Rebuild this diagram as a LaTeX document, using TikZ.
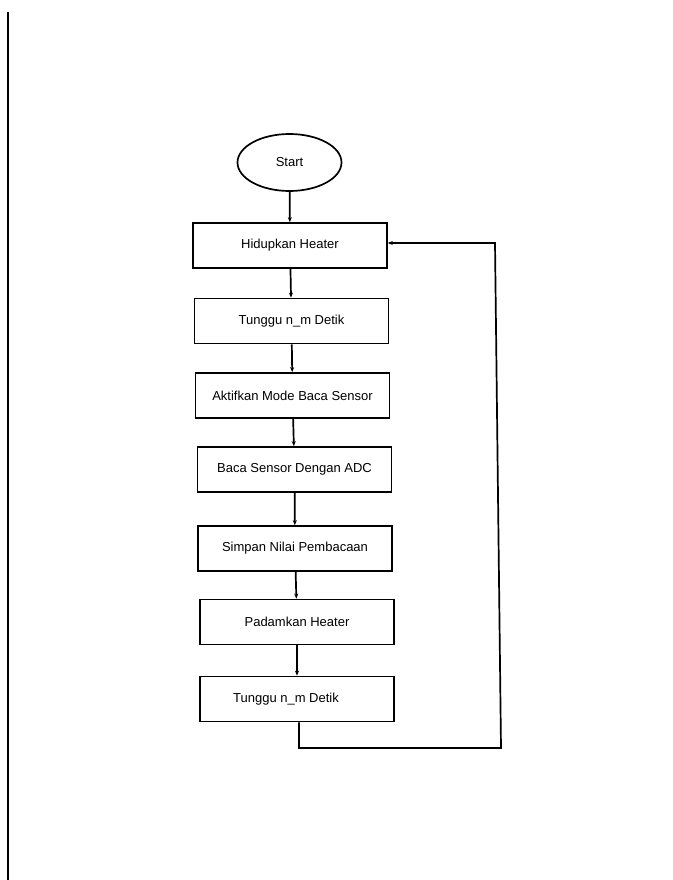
\documentclass[tikz,border=0pt]{standalone}
\usepackage{fontspec}
\setmainfont{Liberation Sans}
\usetikzlibrary{arrows.meta,shapes.geometric}
\begin{document}
\begin{tikzpicture}[x=1pt,y=-1pt,
  line width=1.7pt,
  stepbox/.style={draw, rectangle, minimum width=194pt, minimum height=45pt, inner sep=0pt, font=\fontsize{13}{15}\selectfont},
  termnode/.style={draw, ellipse, minimum width=104pt, minimum height=57pt, inner sep=0pt, font=\fontsize{13}{15}\selectfont},
  flow/.style={-{Stealth[length=5pt,width=4pt]}}]
\useasboundingbox (0,0) rectangle (672,880);
\fill[white] (0,0) rectangle (672,880);
% scanner edge
\draw[line width=1.2pt] (8,12) -- (8,880);
\node[termnode] (start) at (289.5,162.5) {Start};
\node[stepbox] (s1) at (290,245.5) {Hidupkan Heater};
\node[stepbox] (s2) at (291.5,321) {Tunggu n\_m Detik};
\node[stepbox] (s3) at (292.5,395.5) {Aktifkan Mode Baca Sensor};
\node[stepbox] (s4) at (294.5,469.5) {Baca Sensor Dengan ADC};
\node[stepbox] (s5) at (295,548.5) {Simpan Nilai Pembacaan};
\node[stepbox] (s6) at (297,622) {Padamkan Heater};
\node[stepbox] (s7) at (297,699) {\hspace*{-22pt}Tunggu n\_m Detik};
\coordinate (c1) at (299,748);
\coordinate (c2) at (501,748);
\coordinate (c3) at (495,243);
\draw[flow] (start) -- (s1);
\draw[flow] (s1) -- (s2);
\draw[flow] (s2) -- (s3);
\draw[flow] (s3) -- (s4);
\draw[flow] (s4) -- (s5);
\draw[flow] (s5) -- (s6);
\draw[flow] (s6) -- (s7);
\draw[flow] (s7.south -| c1) -- (c1) -- (c2) -- (c3) -- (c3 -| s1.east);
\end{tikzpicture}
\end{document}
